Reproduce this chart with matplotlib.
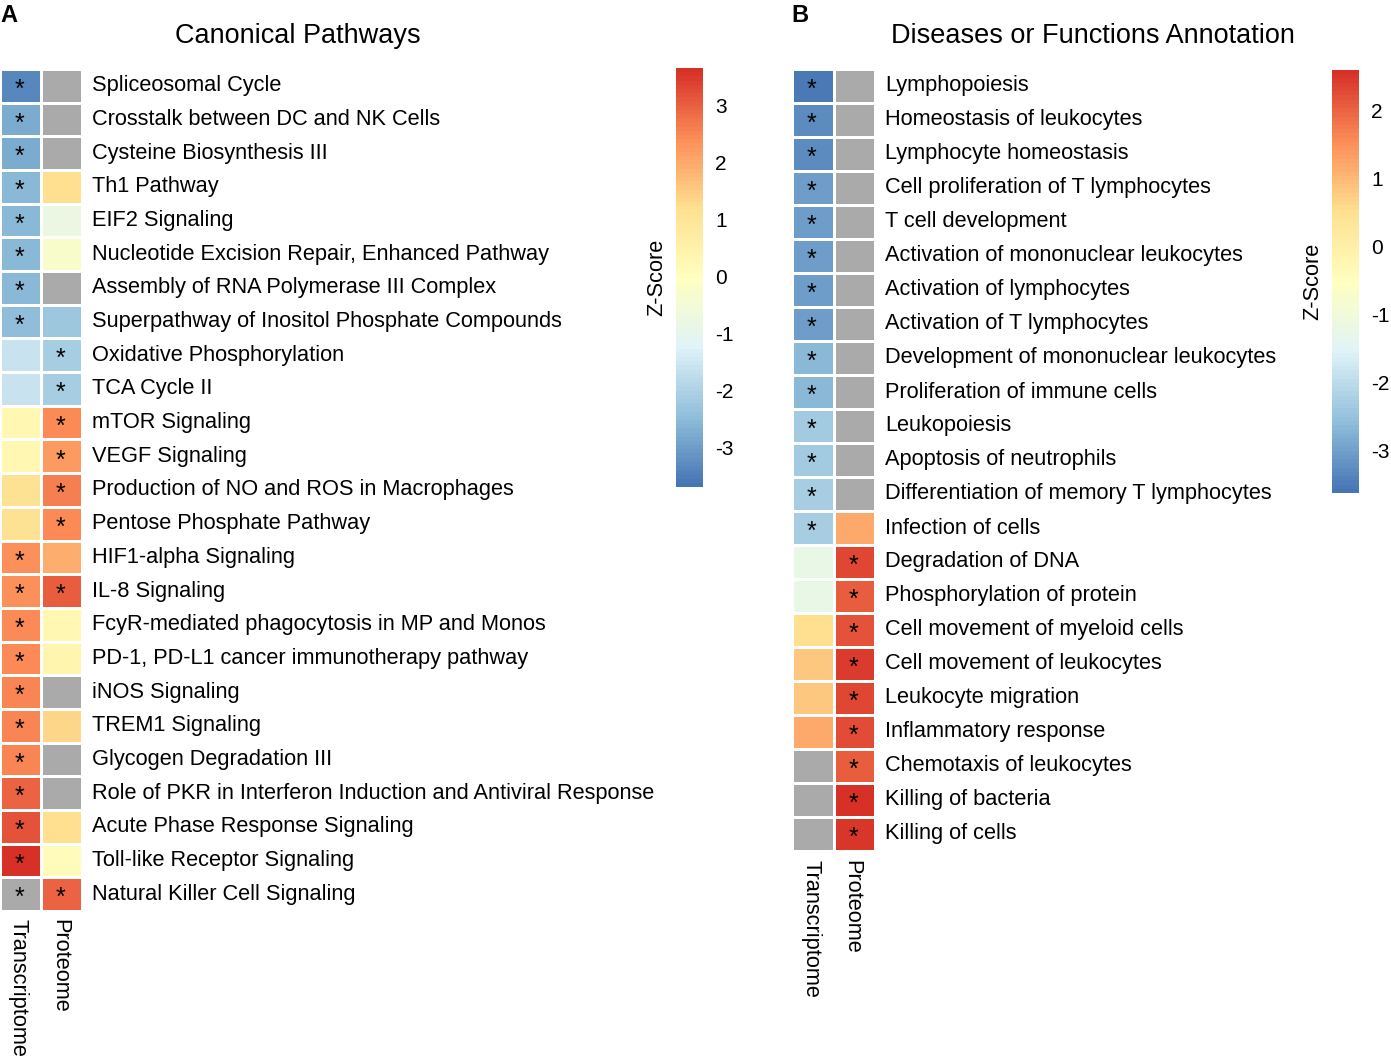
import numpy as np
import matplotlib
matplotlib.use("Agg")
import matplotlib.pyplot as plt
from matplotlib.colors import LinearSegmentedColormap

plt.rcParams['font.family'] = ['Liberation Sans', 'DejaVu Sans']
plt.rcParams['axes.unicode_minus'] = False

nan = np.nan

# Panel A: canonical pathways
pathways = ["Spliceosomal Cycle", "Crosstalk between DC and NK Cells",
            "Cysteine Biosynthesis III", "Th1 Pathway", "EIF2 Signaling",
            "Nucleotide Excision Repair, Enhanced Pathway",
            "Assembly of RNA Polymerase III Complex",
            "Superpathway of Inositol Phosphate Compounds",
            "Oxidative Phosphorylation", "TCA Cycle II", "mTOR Signaling",
            "VEGF Signaling", "Production of NO and ROS in Macrophages",
            "Pentose Phosphate Pathway", "HIF1-alpha Signaling",
            "IL-8 Signaling", "FcyR-mediated phagocytosis in MP and Monos",
            "PD-1, PD-L1 cancer immunotherapy pathway", "iNOS Signaling",
            "TREM1 Signaling", "Glycogen Degradation III",
            "Role of PKR in Interferon Induction and Antiviral Response",
            "Acute Phase Response Signaling", "Toll-like Receptor Signaling",
            "Natural Killer Cell Signaling"]
trans_a = [-3.4, -2.8, -2.8, -2.55, -2.55, -2.55, -2.55, -2.5, -1.6, -1.6,
           0.3, 0.3, 1.1, 1.1, 2.4, 2.4, 2.45, 2.45, 2.5, 2.5, 2.5, 2.95,
           3.2, 3.65, nan]
prot_a = [nan, nan, nan, 1.2, -0.8, -0.3, nan, -2.3, -2.1, -2.1,
          2.45, 2.2, 2.6, 2.45, 1.9, 3.0, 0.3, 0.35, nan, 1.3, nan, nan,
          1.2, 0.05, 2.95]
star_trans_a = [1] * 8 + [0] * 6 + [1] * 11
star_prot_a = [0] * 8 + [1] * 6 + [0, 1] + [0] * 8 + [1]

# Panel B: diseases or functions
functions = ["Lymphopoiesis", "Homeostasis of leukocytes",
             "Lymphocyte homeostasis", "Cell proliferation of T lymphocytes",
             "T cell development", "Activation of mononuclear leukocytes",
             "Activation of lymphocytes", "Activation of T lymphocytes",
             "Development of mononuclear leukocytes",
             "Proliferation of immune cells", "Leukopoiesis",
             "Apoptosis of neutrophils",
             "Differentiation of memory T lymphocytes", "Infection of cells",
             "Degradation of DNA", "Phosphorylation of protein",
             "Cell movement of myeloid cells", "Cell movement of leukocytes",
             "Leukocyte migration", "Inflammatory response",
             "Chemotaxis of leukocytes", "Killing of bacteria",
             "Killing of cells"]
trans_b = [-3.55, -3.25, -3.25, -3.05, -3.05, -3.05, -3.05, -3.0, -2.65,
           -2.65, -2.35, -2.35, -2.3, -2.3, -1.2, -1.2, 0.5, 0.85, 0.85,
           1.2, nan, nan, nan]
prot_b = [nan] * 13 + [1.2, 2.3, 2.1, 2.2, 2.45, 2.3, 2.25, 2.05, 2.55, 2.5]
star_trans_b = [1] * 14 + [0] * 9
star_prot_b = [0] * 14 + [1] * 9

columns = ["Transcriptome", "Proteome"]

cmap = LinearSegmentedColormap.from_list(
    "rdylbu", ["#4575B4", "#91BFDB", "#E0F3F8", "#FFFFBF", "#FEE090",
               "#FC8D59", "#D73027"], N=100)
cmap.set_bad("#AAAAAA")

W, H = 1391, 1060
fig = plt.figure(figsize=(W / 100, H / 100), dpi=100)


def px(x0, y0, x1, y1):
    return [x0 / W, 1 - y1 / H, (x1 - x0) / W, (y1 - y0) / H]


def heatmap(box, labels, t, p, st, sp, vmin, vmax):
    ax = fig.add_axes(px(*box))
    data = np.ma.masked_invalid(np.array([t, p]).T)
    mesh = ax.pcolormesh(data, cmap=cmap, vmin=vmin, vmax=vmax,
                         edgecolor="white", linewidth=1.0)
    n = len(labels)
    ax.set_xlim(0, 2)
    ax.set_ylim(n, 0)
    ax.axis("off")
    for i, lab in enumerate(labels):
        ax.text(2.25, i + 0.5, lab, va="center", ha="left", fontsize=15.7)
        for j, s in enumerate((st[i], sp[i])):
            if s:
                ax.text(j + 0.47, i + 0.62, "*", va="center", ha="center",
                        fontsize=18)
    for j, c in enumerate(columns):
        ax.text(j + 0.45, n + 0.25, c, rotation=-90, va="top", ha="center",
                fontsize=15.7)
    return mesh


def colorbar(mesh, box, ticks):
    cax = fig.add_axes(px(*box))
    cb = fig.colorbar(mesh, cax=cax, ticks=ticks)
    cb.outline.set_visible(False)
    cax.tick_params(length=0, labelsize=15, pad=9)
    cax.yaxis.set_ticks_position("right")
    cax.yaxis.set_label_position("left")
    cb.set_label("Z-Score", fontsize=15.7, labelpad=6)


mesh_a = heatmap((0, 69, 82, 911), pathways, trans_a, prot_a,
                 star_trans_a, star_prot_a, -3.7, 3.65)
colorbar(mesh_a, (676, 68, 703, 487), [-3, -2, -1, 0, 1, 2, 3])
mesh_b = heatmap((792, 69, 875, 851), functions, trans_b, prot_b,
                 star_trans_b, star_prot_b, -3.62, 2.6)
colorbar(mesh_b, (1332, 70, 1359, 493), [-3, -2, -1, 0, 1, 2])

fig.text(298 / W, 1 - 36 / H, "Canonical Pathways", ha="center",
         va="center", fontsize=19.5)
fig.text(1093 / W, 1 - 36 / H, "Diseases or Functions Annotation",
         ha="center", va="center", fontsize=19.5)
fig.text(0 / W, 1 - 15 / H, "A", ha="left", va="center", fontsize=17,
         fontweight="bold")
fig.text(791 / W, 1 - 15 / H, "B", ha="left", va="center", fontsize=17,
         fontweight="bold")

fig.savefig("out.png", dpi=100, facecolor="white")
